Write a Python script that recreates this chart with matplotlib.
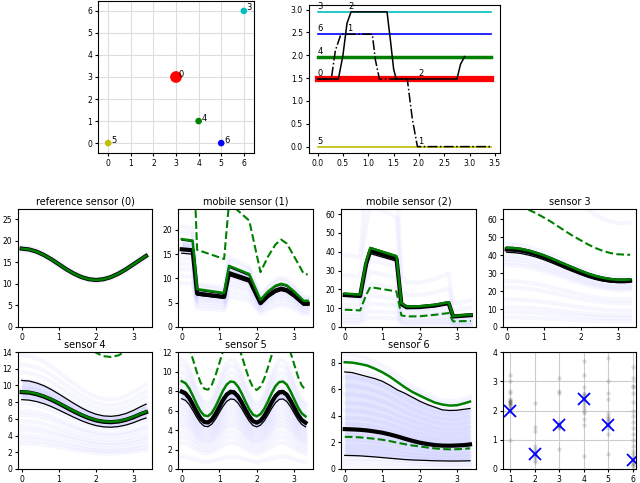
import numpy as np
import matplotlib.pyplot as plt

plt.rcParams['font.size'] = 5.5
plt.rcParams['axes.titlesize'] = 7
plt.rcParams['xtick.labelsize'] = 5.5
plt.rcParams['ytick.labelsize'] = 5.5
plt.rcParams['xtick.major.size'] = 2.5
plt.rcParams['ytick.major.size'] = 2.5
plt.rcParams['xtick.major.pad'] = 1.8
plt.rcParams['ytick.major.pad'] = 1.8

# ---- sensor map (top left) ----
map_ids = ['0', '3', '4', '5', '6']
map_x = [3, 6, 4, 0, 5]
map_y = [3, 6, 1, 0, 0]
map_colors = ['r', 'c', 'g', 'y', 'b']
map_sizes = [55, 14, 14, 14, 14]

# ---- sensor timeline (top right) ----
level_ids = ['3', '6', '4', '0', '5']
level_y = [2.95, 2.46, 1.97, 1.48, 0.0]
level_colors = ['c', 'b', 'g', 'r', 'y']
level_widths = [1.2, 1.2, 2.5, 4.5, 1.2]
level_end = 3.42

mob2_t = [0, 0.41, 0.50, 0.58, 0.66, 1.37, 1.44, 1.50, 1.55, 2.75, 2.82, 2.90]
mob2_y = [1.48, 1.48, 2.0, 2.7, 2.95, 2.95, 2.3, 1.7, 1.48, 1.48, 1.8, 1.97]
mob1_t = [0, 0.27, 0.35, 0.46, 1.08, 1.14, 1.22, 1.77, 1.87, 1.97, 3.42]
mob1_y = [1.48, 1.48, 2.1, 2.46, 2.46, 1.9, 1.48, 1.48, 0.6, 0.0, 0.0]
tl_labels = ['2', '1', '2', '1']
tl_label_x = [0.60, 0.58, 1.98, 1.98]
tl_label_y = [2.95, 2.46, 1.48, 0.0]

# ---- smooth sensor panels, common time grid ----
t = [0, 0.2, 0.4, 0.6, 0.8, 1.0, 1.2, 1.4, 1.6, 1.8, 2.0, 2.2, 2.4, 2.6,
     2.8, 3.0, 3.2, 3.34]

ref_truth = [18.2, 18.0, 17.5, 16.7, 15.7, 14.55, 13.4, 12.4, 11.6, 11.1,
             10.9, 11.1, 11.6, 12.4, 13.4, 14.55, 15.7, 16.5]
ref_faint = [0.97, 0.99, 1.01, 1.03]

s3_truth = [44.1, 43.9, 43.4, 42.5, 41.3, 39.9, 38.3, 36.5, 34.7, 33.0, 31.3,
            29.7, 28.4, 27.4, 26.7, 26.3, 26.3, 26.5]
s3_mean = [43.2, 43.0, 42.5, 41.6, 40.4, 39.0, 37.4, 35.6, 33.8, 32.1, 30.4,
           28.8, 27.5, 26.5, 25.9, 25.6, 25.6, 25.8]
s3_lo = [41.6, 41.4, 40.9, 40.0, 38.9, 37.5, 35.9, 34.2, 32.4, 30.8, 29.2,
         27.7, 26.5, 25.6, 25.0, 24.7, 24.7, 24.9]
s3_hi = [44.5, 44.3, 43.8, 42.9, 41.7, 40.3, 38.7, 36.9, 35.1, 33.4, 31.7,
         30.1, 28.8, 27.8, 27.1, 26.7, 26.7, 26.9]
s3_naive = [68, 67.5, 66.6, 65.2, 63.3, 61.0, 58.6, 55.9, 53.2, 50.6, 48.3,
            46.0, 44.0, 42.4, 41.2, 40.5, 40.3, 40.2]
s3_faint = [0.12, 0.19, 0.25, 0.35, 0.5, 0.58, 0.78, 0.82, 0.86, 0.9, 0.95,
            1.05, 2.2]

s4_truth = [9.25, 9.19, 9.0, 8.71, 8.33, 7.89, 7.41, 6.94, 6.51, 6.14, 5.86,
            5.7, 5.65, 5.73, 5.93, 6.24, 6.63, 6.85]
s4_mean = [9.2, 9.14, 8.95, 8.66, 8.28, 7.84, 7.36, 6.89, 6.46, 6.09, 5.81,
           5.65, 5.6, 5.68, 5.88, 6.19, 6.58, 6.8]
s4_lo = [8.3, 8.24, 8.07, 7.81, 7.46, 7.05, 6.62, 6.19, 5.79, 5.45, 5.19,
         5.04, 5.0, 5.08, 5.26, 5.54, 5.9, 6.1]
s4_hi = [10.6, 10.53, 10.3, 9.96, 9.5, 8.97, 8.41, 7.85, 7.33, 6.88, 6.55,
         6.35, 6.3, 6.4, 6.64, 7.01, 7.47, 7.76]
s4_naive = [21.9, 21.8, 21.3, 20.6, 19.7, 18.7, 17.6, 16.4, 15.4, 14.6, 13.9,
            13.5, 13.4, 13.6, 14.1, 14.8, 15.7, 16.3]
s4_faint = [0.33, 0.38, 0.43, 0.5, 0.55, 0.62, 0.7, 0.75, 0.85, 0.95, 1.0,
            1.05, 1.15, 1.25, 1.35, 1.47]

s6_truth = [8.03, 8.0, 7.9, 7.78, 7.55, 7.28, 6.95, 6.55, 6.15, 5.8, 5.52,
            5.25, 5.0, 4.85, 4.77, 4.8, 4.95, 5.07]
s6_mean = [3.0, 2.98, 2.95, 2.9, 2.82, 2.73, 2.6, 2.45, 2.28, 2.12, 1.98,
           1.88, 1.8, 1.76, 1.75, 1.77, 1.8, 1.85]
s6_lo = [1.02, 1.01, 0.99, 0.95, 0.91, 0.86, 0.81, 0.76, 0.71, 0.68, 0.66,
         0.64, 0.62, 0.61, 0.6, 0.6, 0.61, 0.62]
s6_hi = [7.3, 7.25, 7.1, 6.95, 6.8, 6.6, 6.3, 5.95, 5.7, 5.4, 5.1, 4.85,
         4.65, 4.45, 4.4, 4.42, 4.5, 4.55]
s6_naive = [2.42, 2.41, 2.38, 2.33, 2.27, 2.2, 2.1, 1.98, 1.87, 1.77, 1.7,
            1.62, 1.55, 1.5, 1.48, 1.49, 1.52, 1.56]
s6_faint = [0.03, 0.07, 0.1, 0.14, 0.18, 0.22, 0.27, 0.32, 0.37, 0.42, 0.48,
            0.55, 0.62, 0.7, 0.78, 0.86, 0.93, 1.02, 1.07]

# ---- sensor 5 (finer grid) ----
t5 = [0, 0.1, 0.2, 0.3, 0.4, 0.5, 0.6, 0.7, 0.8, 0.9, 1.0, 1.1, 1.2, 1.3,
      1.4, 1.5, 1.6, 1.7, 1.8, 1.9, 2.0, 2.1, 2.2, 2.3, 2.4, 2.5, 2.6, 2.7,
      2.8, 2.9, 3.0, 3.1, 3.2, 3.3]
s5_truth = [9.0, 8.8, 8.26, 7.48, 6.63, 5.92, 5.49, 5.42, 5.75, 6.4, 7.22,
            8.04, 8.67, 8.98, 8.91, 8.45, 7.74, 6.9, 6.13, 5.58, 5.4, 5.63,
            6.17, 6.95, 7.79, 8.5, 8.92, 8.97, 8.66, 7.97, 7.14, 6.32, 5.71,
            5.4]
s5_mean = [7.92, 7.74, 7.27, 6.58, 5.83, 5.21, 4.83, 4.77, 5.06, 5.63, 6.35,
           7.08, 7.63, 7.9, 7.84, 7.44, 6.81, 6.07, 5.39, 4.91, 4.75, 4.95,
           5.43, 6.12, 6.86, 7.48, 7.85, 7.89, 7.62, 7.01, 6.28, 5.56, 5.02,
           4.75]
s5_hi = [8.1, 7.92, 7.43, 6.73, 5.97, 5.33, 4.94, 4.88, 5.18, 5.76, 6.5, 7.24,
         7.8, 8.08, 8.02, 7.61, 6.97, 6.21, 5.52, 5.02, 4.86, 5.07, 5.55,
         6.26, 7.01, 7.65, 8.03, 8.07, 7.79, 7.17, 6.43, 5.69, 5.14, 4.86]
s5_lo = [7.2, 7.04, 6.61, 5.98, 5.3, 4.74, 4.39, 4.34, 4.6, 5.12, 5.78, 6.43,
         6.94, 7.18, 7.13, 6.76, 6.19, 5.52, 4.9, 4.46, 4.32, 4.5, 4.94, 5.56,
         6.23, 6.8, 7.14, 7.18, 6.93, 6.38, 5.71, 5.06, 4.57, 4.32]
s5_naive = [13.5, 13.2, 12.39, 11.22, 9.95, 8.88, 8.24, 8.13, 8.63, 9.6,
            10.83, 12.06, 13.0, 13.47, 13.37, 12.68, 11.61, 10.35, 9.2, 8.37,
            8.1, 8.45, 9.26, 10.43, 11.69, 12.75, 13.38, 13.46, 12.99, 11.96,
            10.71, 9.48, 8.57, 8.1]
s5_faint = [0.14, 0.3, 0.36, 0.42, 0.48, 0.52, 0.56, 0.6, 0.64, 0.68, 0.72,
            0.76, 0.8, 0.84, 0.88, 0.92, 0.97, 1.03, 1.1, 1.18, 1.25]

# ---- mobile sensor 1 ----
m1_t = [0, 0.29, 0.41, 1.13, 1.26, 1.8, 2.1, 2.3, 2.5, 2.65, 2.8, 3.0, 3.25,
        3.36]
m1_truth = [18.1, 17.8, 7.8, 7.0, 12.6, 10.9, 5.6, 7.3, 8.5, 8.9, 8.6, 7.3,
            5.4, 5.4]
m1_mean = [16.0, 15.8, 6.9, 6.2, 11.1, 9.7, 4.9, 6.4, 7.5, 7.9, 7.6, 6.5,
           4.8, 4.8]
m1_hi = [17.9, 17.6, 7.6, 6.8, 12.3, 10.6, 5.4, 7.1, 8.3, 8.7, 8.4, 7.1,
         5.2, 5.2]
m1_lo = [15.2, 15.0, 6.55, 5.9, 10.6, 9.2, 4.7, 6.1, 7.1, 7.5, 7.2, 6.1,
         4.5, 4.5]
m1_naive = [40, 40, 15.9, 14.0, 25.6, 21.9, 11.3, 14.5, 17.0, 18.0, 17.2,
            14.5, 11.0, 10.8]
m1_faint = [0.5, 0.58, 0.66, 0.72, 0.78, 0.83, 0.88, 0.93, 1.08, 1.14]

# ---- mobile sensor 2 ----
m2_t = [0, 0.41, 0.57, 0.68, 1.38, 1.51, 1.65, 2.0, 2.41, 2.77, 2.89, 3.36]
m2_truth = [17.8, 17.2, 34.7, 42.0, 37.6, 12.7, 10.9, 11.0, 11.8, 13.2, 5.8,
            6.6]
m2_mean = [17.0, 16.5, 33.5, 40.5, 36.3, 12.2, 10.5, 10.6, 11.4, 12.7, 5.6,
           6.3]
m2_hi = [17.9, 17.3, 35.0, 42.3, 37.9, 12.9, 11.0, 11.1, 11.9, 13.3, 5.9,
         6.7]
m2_lo = [16.4, 15.9, 32.0, 39.0, 35.0, 11.8, 10.1, 10.2, 10.9, 12.2, 5.35,
         6.1]
m2_naive = [9.2, 8.8, 17.0, 21.2, 18.9, 6.2, 5.6, 5.7, 6.5, 7.4, 3.0, 3.2]
m2_faint = [0.12, 0.2, 0.3, 0.4, 0.55, 0.7, 0.85, 0.92, 1.55, 2.15]

# ---- last panel: position estimates per sensor ----
est_x = ([1] * 17 + [2] * 12 + [3] * 11 + [4] * 17 + [5] * 15 + [6] * 21)
est_y = ([2.05, 2.1, 2.15, 2.2, 2.22, 2.25, 2.28, 2.3, 2.32, 2.35, 2.6, 2.65,
          2.4, 1.0, 3.2, 2.0, 3.0] +
         [0.3, 0.4, 0.45, 0.5, 0.55, 0.6, 0.7, 0.8, 1.3, 1.45, 2.25, 0.25] +
         [1.45, 1.48, 1.5, 1.52, 1.55, 1.4, 0.7, 2.6, 2.65, 3.1, 1.6] +
         [2.0, 2.1, 2.2, 2.3, 2.35, 2.4, 2.45, 2.5, 2.55, 2.6, 1.5, 1.7, 1.9,
          3.2, 3.7, 0.45, 2.8] +
         [1.4, 1.5, 1.55, 1.6, 1.65, 1.7, 1.75, 1.8, 1.9, 0.5, 2.4, 2.6, 3.0,
          3.8, 1.2] +
         [0.1, 0.2, 0.3, 0.4, 0.5, 0.6, 0.8, 1.0, 1.2, 1.4, 1.6, 1.8, 2.0,
          2.3, 2.6, 2.8, 2.85, 3.1, 3.5, 0.15, 0.25])
true_x = [1, 2, 3, 4, 5, 6]
true_y = [2.0, 0.5, 1.5, 2.4, 1.5, 0.3]


def px_rect(x0, y0, x1, y1):
    return [x0 / 640, 1 - y1 / 483, (x1 - x0) / 640, (y1 - y0) / 483]


def panel(ax, tt, truth, mean, lo, hi, naive, ratios, ylim, title):
    base = np.asarray(truth)
    for r in ratios:
        ax.plot(tt, r * base, color='b', alpha=0.035, lw=3)
    if lo is not None:
        ax.fill_between(tt, lo, hi, color='b', alpha=0.1, lw=0)
    ax.plot(tt, mean, color='k', lw=3)
    if lo is not None:
        ax.plot(tt, lo, color='k', lw=0.9)
        ax.plot(tt, hi, color='k', lw=0.9)
    ax.plot(tt, truth, color='g', lw=1.8)
    if naive is not None:
        ax.plot(tt, naive, color='g', ls='--', lw=1.5)
    ax.set_xlim(-0.1, 3.5)
    ax.set_ylim(*ylim)
    ax.set_xticks([0, 1, 2, 3])
    ax.set_title(title, pad=3)


fig = plt.figure(figsize=(6.4, 4.83), dpi=100)

# top left: sensor map
ax = fig.add_axes(px_rect(98, 1, 254, 153))
ax.grid(True, color='#dddddd', lw=0.8)
ax.set_axisbelow(True)
ax.scatter(map_x, map_y, s=map_sizes, c=map_colors, zorder=3)
for i, name in enumerate(map_ids):
    ax.text(map_x[i] + 0.12, map_y[i] + 0.02, name, fontsize=6)
ax.set_xlim(-0.45, 6.45)
ax.set_ylim(-0.45, 6.45)
ax.set_xticks(range(7))
ax.set_yticks(range(7))

# top right: which sensor each mobile unit sits next to
ax = fig.add_axes(px_rect(309, 5, 500, 153))
for i, name in enumerate(level_ids):
    ax.plot([0, level_end], [level_y[i], level_y[i]], color=level_colors[i],
            lw=level_widths[i])
    ax.text(0, level_y[i] + 0.02, name, fontsize=6, va='bottom')
ax.plot(mob2_t, mob2_y, color='k', lw=1.1)
ax.plot(mob1_t, mob1_y, color='k', lw=1.1, ls='-.')
for i, name in enumerate(tl_labels):
    ax.text(tl_label_x[i], tl_label_y[i] + 0.02, name, fontsize=6, va='bottom')
ax.set_xlim(-0.17, 3.6)
ax.set_ylim(-0.14, 3.1)
ax.set_xticks(np.arange(0, 3.6, 0.5))

cols = [(18, 152), (178, 313), (341, 476), (503, 636)]
rows = [(209, 327), (352, 469)]

ax = fig.add_axes(px_rect(cols[0][0], rows[0][0], cols[0][1], rows[0][1]))
panel(ax, t, ref_truth, ref_truth, None, None, None, ref_faint, (0, 27.4),
      'reference sensor (0)')
ax = fig.add_axes(px_rect(cols[1][0], rows[0][0], cols[1][1], rows[0][1]))
panel(ax, m1_t, m1_truth, m1_mean, m1_lo, m1_hi, m1_naive, m1_faint,
      (0, 24.3), 'mobile sensor (1)')
ax = fig.add_axes(px_rect(cols[2][0], rows[0][0], cols[2][1], rows[0][1]))
panel(ax, m2_t, m2_truth, m2_mean, m2_lo, m2_hi, m2_naive, m2_faint,
      (0, 62.7), 'mobile sensor (2)')
ax = fig.add_axes(px_rect(cols[3][0], rows[0][0], cols[3][1], rows[0][1]))
panel(ax, t, s3_truth, s3_mean, s3_lo, s3_hi, s3_naive, s3_faint,
      (0, 65.7), 'sensor 3')
ax = fig.add_axes(px_rect(cols[0][0], rows[1][0], cols[0][1], rows[1][1]))
panel(ax, t, s4_truth, s4_mean, s4_lo, s4_hi, s4_naive, s4_faint,
      (0, 14), 'sensor 4')
ax = fig.add_axes(px_rect(cols[1][0], rows[1][0], cols[1][1], rows[1][1]))
panel(ax, t5, s5_truth, s5_mean, s5_lo, s5_hi, s5_naive, s5_faint,
      (0, 12), 'sensor 5')
ax = fig.add_axes(px_rect(cols[2][0], rows[1][0], cols[2][1], rows[1][1]))
panel(ax, t, s6_truth, s6_mean, s6_lo, s6_hi, s6_naive, s6_faint,
      (0, 8.8), 'sensor 6')

# bottom right: estimated vs true values
ax = fig.add_axes(px_rect(cols[3][0], rows[1][0], cols[3][1], rows[1][1]))
ax.grid(True, color='#cccccc', lw=0.8)
ax.set_axisbelow(True)
ax.scatter(est_x, est_y, s=10, color='k', alpha=0.12, lw=0)
ax.plot(true_x, true_y, 'bx', ms=8, mew=1.3, ls='none')
ax.set_xlim(0.71, 6.14)
ax.set_ylim(0, 4)
ax.set_xticks(true_x)

fig.savefig('out.png', dpi=100)
